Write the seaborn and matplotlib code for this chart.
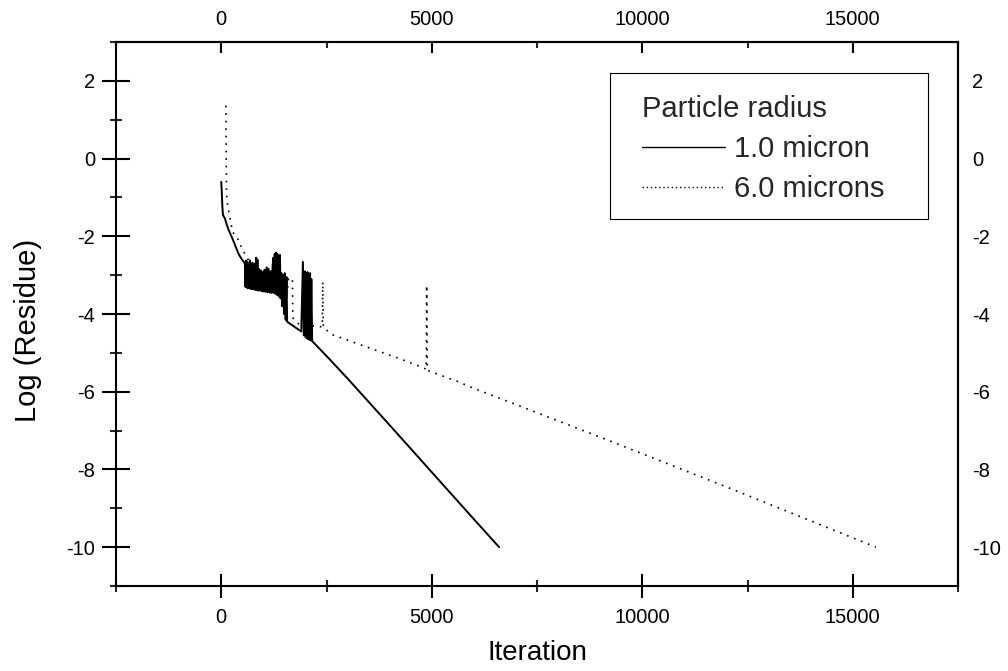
import pandas as pd
import matplotlib.pyplot as plt
from matplotlib.lines import Line2D
from matplotlib.patches import Rectangle
from matplotlib.ticker import FixedLocator, MultipleLocator
import seaborn as sns

# 1.0 micron run (solid)
iter_1um = [0, 10, 25, 40, 90, 130, 180, 250, 300, 410, 480, 530,
            560, 575, 590, 605, 620, 635, 650, 665, 680, 695, 710, 725, 740, 755,
            770, 785, 800, 815, 830, 845, 860, 875,
            905, 925, 945, 965, 985, 1005, 1030, 1050, 1080, 1100, 1125, 1150, 1175, 1200,
            1220, 1240, 1255, 1270, 1285, 1300, 1315, 1330, 1345, 1365, 1380, 1395, 1410,
            1430, 1450, 1470, 1490, 1510, 1530, 1550, 1565,
            1700, 1900,
            1940, 1960, 1990, 2005, 2020, 2035, 2050, 2065, 2080, 2095, 2110, 2125, 2140, 2160, 2180,
            2500, 3000, 3500, 4000, 5000, 6000, 6600]
res_1um = [-0.60, -0.80, -1.20, -1.45, -1.55, -1.70, -1.85, -2.02, -2.15, -2.45, -2.58, -2.65,
           -2.70, -3.30, -2.62, -3.32, -2.66, -3.34, -2.75, -3.33, -2.62, -3.35, -2.72, -3.36, -2.68, -3.36,
           -2.80, -3.37, -2.70, -3.38, -2.55, -3.38, -2.60, -3.40,
           -2.85, -3.40, -2.88, -3.41, -2.92, -3.42, -2.86, -3.43, -2.80, -3.44, -2.84, -3.45, -2.90, -3.46,
           -2.75, -2.55, -3.46, -2.45, -3.47, -2.42, -3.50, -2.45, -3.52, -2.50, -3.55, -2.48, -3.60,
           -2.95, -3.80, -3.00, -4.00, -2.95, -4.15, -3.05, -4.20,
           -4.30, -4.45,
           -2.66, -4.55, -2.90, -4.60, -2.95, -4.62, -2.92, -4.65, -3.00, -4.66, -2.95, -4.68, -3.10, -4.70, -4.72,
           -5.08, -5.66, -6.26, -6.86, -8.07, -9.28, -10.0]

# 6.0 microns run (dotted)
iter_6um = [110, 115, 120, 125, 135, 173, 220, 268, 372, 490, 560, 650, 800, 1000, 1200,
            1400, 1440, 1480, 1520, 1600, 1680, 1690, 1700, 1760, 1830, 2000, 2200, 2400,
            2410, 2425, 2660, 3300, 3770, 4240, 4670, 4870, 4880, 4895, 5070, 5620, 5970,
            8980, 12140, 15550]
res_6um = [1.36, 0.50, -0.30, -0.85, -1.08, -1.33, -1.60, -1.89, -2.02, -2.31, -2.45, -2.62, -2.80, -2.92, -3.00,
           -3.02, -3.85, -3.05, -3.90, -3.10, -3.10, -3.08, -4.10, -4.15, -4.25, -4.28, -4.31, -4.33,
           -3.17, -4.35, -4.54, -4.79, -4.97, -5.15, -5.33, -5.42, -3.26, -5.45, -5.52, -5.74, -5.90,
           -7.16, -8.51, -10.0]

x_ticks = [0, 5000, 10000, 15000]
y_ticks = [-10, -8, -6, -4, -2, 0, 2]
legend_title = "Particle radius"
series_labels = ["1.0 micron", "6.0 microns"]

sns.set_theme(style="white")
plt.rcParams['font.family'] = ['Liberation Sans', 'DejaVu Sans']
plt.rcParams['axes.unicode_minus'] = False

df_1um = pd.DataFrame({'Iteration': iter_1um, 'LogResidue': res_1um})
df_6um = pd.DataFrame({'Iteration': iter_6um, 'LogResidue': res_6um})

fig = plt.figure(figsize=(10.08, 6.71), dpi=100)
ax = fig.add_axes([116 / 1008, 1 - 586 / 671, 842 / 1008, 544 / 671])

sns.lineplot(data=df_1um, x='Iteration', y='LogResidue', estimator=None, sort=False,
             color='black', linewidth=1.4, ax=ax)
sns.lineplot(data=df_6um, x='Iteration', y='LogResidue', estimator=None, sort=False,
             color='black', linewidth=1.2, ax=ax)
ax.lines[-1].set_linestyle((0, (1, 3.5)))

ax.set_xlim(-2500, 17500)
ax.set_ylim(-11, 3)

for side in ['left', 'right', 'top', 'bottom']:
    ax.spines[side].set_visible(True)
    ax.spines[side].set_color('black')
    ax.spines[side].set_linewidth(1.5)

ax.xaxis.set_major_locator(FixedLocator(x_ticks))
ax.xaxis.set_minor_locator(MultipleLocator(2500))
ax.yaxis.set_major_locator(FixedLocator(y_ticks))
ax.yaxis.set_minor_locator(MultipleLocator(1))

ax.tick_params(axis='x', which='major', direction='inout', length=17, width=1.5,
               pad=7.5, labelsize=14.5, colors='black', bottom=True, top=False)
ax.tick_params(axis='x', which='minor', direction='inout', length=9, width=1.5,
               bottom=True, top=False)
ax.tick_params(axis='y', which='major', direction='inout', length=20, width=1.5,
               pad=5, labelsize=14.5, colors='black', left=True, right=False)
ax.tick_params(axis='y', which='minor', direction='inout', length=9, width=1.5,
               left=True, right=False)

# top axis: inward ticks with labels
top_ax = ax.secondary_xaxis('top')
top_ax.xaxis.set_major_locator(FixedLocator(x_ticks))
top_ax.xaxis.set_minor_locator(MultipleLocator(2500))
top_ax.tick_params(which='major', direction='in', length=8, width=1.5, pad=9.5,
                   labelsize=14.5, colors='black')
top_ax.tick_params(which='minor', direction='in', length=4.5, width=1.5)
top_ax.spines['top'].set_linewidth(1.5)

# right axis: labels only
right_ax = ax.secondary_yaxis('right')
right_ax.yaxis.set_major_locator(FixedLocator(y_ticks))
right_ax.yaxis.set_minor_locator(FixedLocator([]))
right_ax.tick_params(which='major', length=0, pad=10, labelsize=14.5, colors='black')
right_ax.spines['right'].set_linewidth(1.5)

ax.set_xlabel("Iteration", fontsize=20, color='black')
ax.set_ylabel("Log (Residue)", fontsize=21, color='black')
ax.xaxis.set_label_coords(0.5, -0.100)
ax.yaxis.set_label_coords(-0.0879, 0.469)

handles = [Line2D([], [], color='black', linewidth=1.0),
           Line2D([], [], color='black', linewidth=1.0, linestyle=(0, (1, 2)))]
leg = ax.legend(handles, series_labels, title=legend_title, fontsize=21, title_fontsize=21,
                loc='upper left', bbox_to_anchor=((642 - 17.5) / 1008, 1 - (95 - 17.5) / 671),
                bbox_transform=fig.transFigure, frameon=False, borderpad=0.6,
                handlelength=2.85, handletextpad=0.31, labelspacing=0.41,
                alignment='left', borderaxespad=0)

fig.patches.append(Rectangle((610 / 1008, 1 - 219 / 671), 318 / 1008, 146 / 671,
                             transform=fig.transFigure, fill=False,
                             edgecolor='black', linewidth=0.8))

fig.savefig('out.png', dpi=100, facecolor='white')
